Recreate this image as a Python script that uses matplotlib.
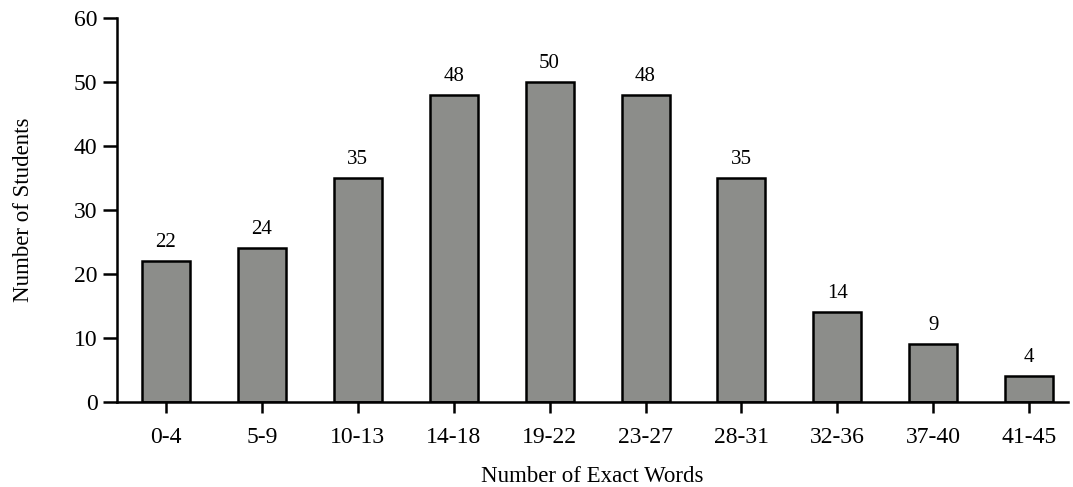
import matplotlib.pyplot as plt

categories = ['0-4', '5-9', '10-13', '14-18', '19-22', '23-27', '28-31', '32-36', '37-40', '41-45']
students = [22, 24, 35, 48, 50, 48, 35, 14, 9, 4]

plt.rcParams['font.family'] = ['Liberation Serif', 'DejaVu Serif']

fig = plt.figure(figsize=(10.73, 4.87), dpi=100)
ax = fig.add_axes([0.109, 0.1745, 0.886, 0.7885])

x = range(len(categories))
bars = ax.bar(x, students, width=0.5, color='#8c8d8a', edgecolor='black', linewidth=1.8)

for xi, v in zip(x, students):
    ax.text(xi, v + 1.4, str(v), ha='center', va='bottom', fontsize=15)

ax.set_xticks(list(x))
ax.set_xticklabels(categories, fontsize=17)
ax.set_xlim(-0.51, 9.4)
ax.set_ylim(0, 60)
ax.set_yticks(range(0, 61, 10))
ax.tick_params(axis='y', labelsize=17, length=10, width=1.8, direction='out', pad=4)
ax.tick_params(axis='x', length=8, width=1.8, direction='out', pad=10)

ax.spines['top'].set_visible(False)
ax.spines['right'].set_visible(False)
ax.spines['left'].set_linewidth(1.8)
ax.spines['bottom'].set_linewidth(1.8)

ax.set_xlabel('Number of Exact Words', fontsize=16.5, labelpad=13)
ax.set_ylabel('Number of Students', fontsize=16.5, labelpad=29)

fig.savefig('out.png', dpi=100)
